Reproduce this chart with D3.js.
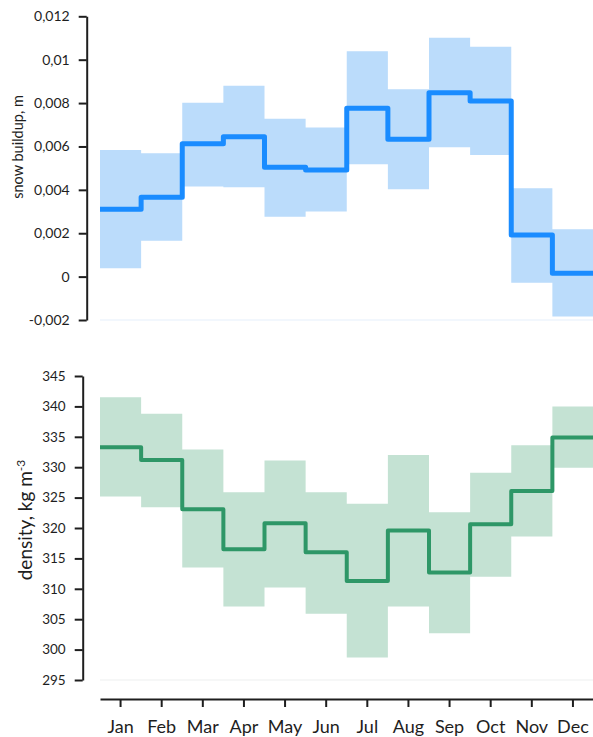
<!DOCTYPE html>
<html>
<head>
<meta charset="utf-8">
<script src="https://cdn.jsdelivr.net/npm/d3@7"></script>
<style>
  html, body { margin: 0; padding: 0; background: #fff; }
  svg { display: block; font-family: Lato, "Open Sans", sans-serif; }
</style>
</head>
<body>
<svg id="chart" width="593" height="737"></svg>
<script>
// Monthly categories
const months = ["Jan", "Feb", "Mar", "Apr", "May", "Jun", "Jul", "Aug", "Sep", "Oct", "Nov", "Dec"];

// Snow buildup (m): monthly mean and uncertainty range
const buildupMean = [0.00311, 0.00366, 0.00612, 0.00645, 0.00504, 0.00492, 0.00776, 0.00633, 0.00848, 0.00810, 0.00192, 0.00016];
const buildupHigh = [0.00584, 0.00569, 0.00802, 0.00880, 0.00728, 0.00687, 0.01039, 0.00864, 0.01101, 0.01060, 0.00407, 0.00218];
const buildupLow  = [0.00039, 0.00165, 0.00415, 0.00412, 0.00276, 0.00300, 0.00518, 0.00403, 0.00596, 0.00561, -0.00028, -0.00184];

// Snow density (kg m-3): monthly mean and uncertainty range
const densityMean = [333.3, 331.2, 323.1, 316.5, 320.8, 316.0, 311.3, 319.6, 312.7, 320.6, 326.1, 334.9];
const densityHigh = [341.5, 338.8, 332.9, 325.9, 331.1, 325.9, 324.0, 332.0, 322.6, 329.1, 333.6, 340.0];
const densityLow  = [325.2, 323.4, 313.5, 307.1, 310.2, 305.9, 298.7, 307.1, 302.7, 312.0, 318.6, 329.9];

// Tick values
const buildupTicks = [-0.002, 0, 0.002, 0.004, 0.006, 0.008, 0.01, 0.012];
const densityTicks = [295, 300, 305, 310, 315, 320, 325, 330, 335, 340, 345];

const svg = d3.select("#chart");
const ink = "#1e1e1e";

// Shared month scale (continuous, one unit per month)
const x = d3.scaleLinear().domain([0, 12]).range([100, 593.5]);

function stepPoints(vals) {
  const pts = vals.map((v, i) => [i, v]);
  pts.push([12, vals[vals.length - 1]]);
  return pts;
}
function stepBand(lo, hi) {
  const pts = lo.map((v, i) => [i, v, hi[i]]);
  pts.push([12, lo[lo.length - 1], hi[hi.length - 1]]);
  return pts;
}

function panel(opts) {
  const y = d3.scaleLinear().domain(opts.domain).range(opts.range);
  const g = svg.append("g");

  // faint baseline along the bottom of the plot area
  g.append("line")
    .attr("x1", x(0)).attr("x2", x(12))
    .attr("y1", y(opts.domain[0])).attr("y2", y(opts.domain[0]))
    .attr("stroke", opts.faint).attr("stroke-width", 1.5);

  // uncertainty band
  const area = d3.area()
    .x(d => x(d[0])).y0(d => y(d[1])).y1(d => y(d[2]))
    .curve(d3.curveStepAfter);
  g.append("path")
    .datum(stepBand(opts.low, opts.high))
    .attr("d", area)
    .attr("fill", opts.band);

  // monthly mean as a step line
  const line = d3.line()
    .x(d => x(d[0])).y(d => y(d[1]))
    .curve(d3.curveStepAfter);
  g.append("path")
    .datum(stepPoints(opts.mean))
    .attr("d", line)
    .attr("fill", "none")
    .attr("stroke", opts.color)
    .attr("stroke-width", opts.width)
    .attr("stroke-linejoin", "round");

  // y axis
  const ax = g.append("g")
    .attr("transform", `translate(${opts.axisX},0)`)
    .call(d3.axisLeft(y)
      .tickValues(opts.ticks)
      .tickFormat(opts.fmt)
      .tickSize(8)
      .tickSizeOuter(0)
      .tickPadding(9));
  ax.select(".domain").attr("stroke", ink).attr("stroke-width", 2);
  ax.selectAll(".tick line").attr("stroke", ink).attr("stroke-width", 2);
  ax.selectAll(".tick text")
    .attr("fill", ink)
    .style("font-size", opts.tickSize)
    .style("font-family", "Lato, 'Open Sans', sans-serif");

  // axis title
  g.append("text")
    .attr("transform", `translate(${opts.titleX},${opts.titleY}) rotate(-90)`)
    .attr("text-anchor", "middle")
    .attr("fill", ink)
    .style("font-size", opts.titleSize)
    .call(opts.title);
  return y;
}

panel({
  domain: [-0.002, 0.012], range: [320, 16.3],
  low: buildupLow, high: buildupHigh, mean: buildupMean,
  color: "#1a8cff", band: "#bbdcfb", faint: "#eef5fc", width: 5,
  ticks: buildupTicks,
  fmt: d => String(d).replace(".", ","),
  axisX: 86.7, tickSize: "14px",
  titleX: 23, titleY: 147, titleSize: "14.5px",
  title: t => t.text("snow buildup, m")
});

panel({
  domain: [295, 345], range: [680, 376],
  low: densityLow, high: densityHigh, mean: densityMean,
  color: "#2e9767", band: "#c4e2d3", faint: "#f3f5f4", width: 4,
  ticks: densityTicks,
  fmt: d => String(d),
  axisX: 82.7, tickSize: "13.5px",
  titleX: 32, titleY: 520, titleSize: "19px",
  title: t => {
    t.append("tspan").text("density, kg m");
    t.append("tspan").attr("dy", "-0.55em").style("font-size", "12px").text("-3");
  }
});

// month axis along the bottom
const xb = d3.scaleBand().domain(months).range([x(0), x(12)]);
const xa = svg.append("g")
  .attr("transform", "translate(0,699)")
  .call(d3.axisBottom(xb).tickSize(8).tickSizeOuter(0).tickPadding(13));
xa.select(".domain").attr("stroke", ink).attr("stroke-width", 2);
xa.selectAll(".tick line").attr("stroke", ink).attr("stroke-width", 2);
xa.selectAll(".tick text")
  .attr("fill", ink)
  .style("font-size", "18px")
  .style("font-family", "Lato, 'Open Sans', sans-serif");
</script>
</body>
</html>
